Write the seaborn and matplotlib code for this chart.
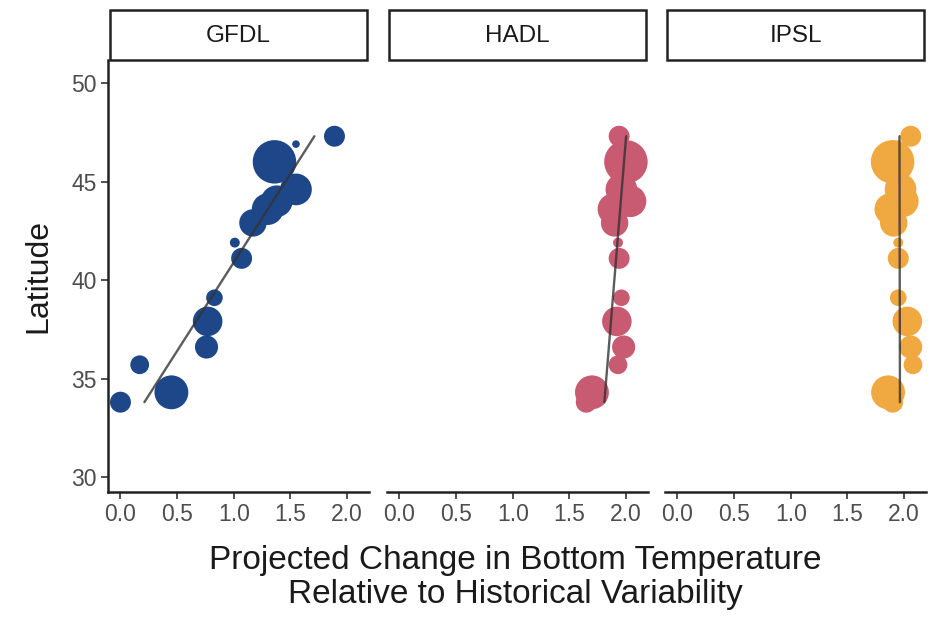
import numpy as np
import pandas as pd
import matplotlib
matplotlib.use("Agg")
import matplotlib.pyplot as plt
from matplotlib.patches import Rectangle
import seaborn as sns

models = ["GFDL", "HADL", "IPSL"]
latitude = [33.8, 34.3, 35.7, 36.6, 37.9, 39.1, 41.1, 41.9, 42.9, 43.6, 44.0, 44.6, 46.0, 46.9, 47.3]
site_weight = [100, 256, 81, 121, 196, 64, 100, 25, 169, 225, 225, 225, 420, 16, 100]
change_gfdl = [0.00, 0.45, 0.17, 0.76, 0.77, 0.83, 1.07, 1.01, 1.17, 1.30, 1.38, 1.55, 1.36, 1.55, 1.89]
change_hadl = [1.65, 1.70, 1.93, 1.98, 1.92, 1.96, 1.94, 1.93, 1.90, 1.89, 2.04, 1.96, 2.00, 1.95, 1.94]
change_ipsl = [1.90, 1.86, 2.08, 2.06, 2.03, 1.95, 1.95, 1.95, 1.91, 1.88, 1.99, 1.97, 1.90, 1.95, 2.06]
palette = {"GFDL": "#1d4788", "HADL": "#c85a72", "IPSL": "#f0a840"}

df = pd.concat([
    pd.DataFrame({"model": m, "lat": latitude, "change": c, "w": site_weight})
    for m, c in zip(models, [change_gfdl, change_hadl, change_ipsl])
])

sns.set_theme(style="white")
plt.rcParams["font.family"] = ["Liberation Sans", "DejaVu Sans"]

g = sns.relplot(data=df, x="change", y="lat", col="model", hue="model", size="w",
                palette=palette, sizes=(30, 980), size_norm=(16, 420), kind="scatter",
                alpha=1, linewidth=0, legend=False, height=4, aspect=0.6,
                facet_kws={"sharex": True, "sharey": True})

# fitted line of change on latitude, drawn across the latitude range
for m, ax in zip(models, g.axes.flat):
    sub = df[df["model"] == m]
    b, a = np.polyfit(sub["lat"], sub["change"], 1)
    yy = np.array([sub["lat"].min(), sub["lat"].max()])
    ax.plot(a + b * yy, yy, color="#333333", lw=1.7, alpha=0.8, zorder=3)

fig = g.figure
fig.set_size_inches(9.42, 6.27)
lefts = [108, 387, 665]
for ax, left, m in zip(g.axes.flat, lefts, models):
    ax.set_position([left / 942, 1 - 492 / 627, 261 / 942, 432 / 627])
    ax.set_xlim(-0.11, 2.195)
    ax.set_ylim(29.24, 51.17)
    ax.set_xticks([0.0, 0.5, 1.0, 1.5, 2.0])
    ax.set_xticklabels(["0.0", "0.5", "1.0", "1.5", "2.0"])
    ax.set_title("")
    ax.set_xlabel("")
    ax.set_ylabel("")
    for s in ["top", "right"]:
        ax.spines[s].set_visible(False)
    ax.spines["bottom"].set_linewidth(1.8)
    ax.spines["bottom"].set_color("#222222")
    ax.tick_params(axis="x", bottom=True, length=5, width=1.2, color="#333333",
                   labelsize=16.5, labelcolor="#4d4d4d", pad=3)
    ax.add_patch(Rectangle((0.006, 1.0), 0.988, 0.116, transform=ax.transAxes,
                           facecolor="white", edgecolor="#222222", lw=1.8, clip_on=False))
    ax.text(0.5, 1.056, m, transform=ax.transAxes, ha="center", va="center",
            fontsize=17.5, color="#1a1a1a")

ax0 = g.axes.flat[0]
ax0.set_yticks([30, 35, 40, 45, 50])
ax0.spines["left"].set_linewidth(1.8)
ax0.spines["left"].set_color("#222222")
ax0.tick_params(axis="y", left=True, length=5, width=1.2, color="#333333",
                labelsize=16.5, labelcolor="#4d4d4d", pad=3)
ax0.set_ylabel("Latitude", fontsize=23, color="#1a1a1a", labelpad=13)
for ax in g.axes.flat[1:]:
    ax.spines["left"].set_visible(False)
    ax.tick_params(axis="y", left=False, labelleft=False)

fig.text(515 / 942, 1 - 545 / 627, "Projected Change in Bottom Temperature\nRelative to Historical Variability",
         ha="center", va="top", fontsize=24, color="#1a1a1a", linespacing=1.12)

fig.savefig("out.png", dpi=100)
